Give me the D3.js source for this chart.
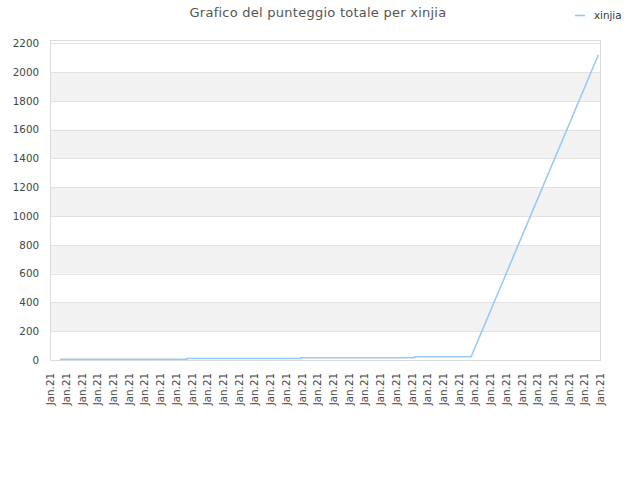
<!DOCTYPE html>
<html>
<head>
<meta charset="utf-8">
<script src="https://cdn.jsdelivr.net/npm/d3@7"></script>
<style>
  body { margin: 0; background: #fff; }
  svg { display: block; font-family: "DejaVu Sans", sans-serif; }
</style>
</head>
<body>
<div id="chart"></div>
<script>
// --- Data ---
const chartTitle = "Grafico del punteggio totale per xinjia";
const seriesName = "xinjia";

// 36 category ticks along the x axis
const tickLabels = d3.range(36).map(() => "Jan.21");

// points of the series: position on the tick index axis and score
const pointPos = [0.64, 8.72, 8.72, 15.97, 15.97, 23.2, 23.2, 26.8, 34.9];
const pointScore = [5, 5, 10, 10, 16, 16, 23, 23, 2120];

const yTicks = [0, 200, 400, 600, 800, 1000, 1200, 1400, 1600, 1800, 2000, 2200];

// --- Layout ---
const width = 640, height = 480;
const plot = { left: 50, right: 600, top: 40, bottom: 360 };

const svg = d3.select("#chart").append("svg")
  .attr("width", width)
  .attr("height", height);

const x = d3.scaleLinear()
  .domain([0, tickLabels.length - 1])
  .range([plot.left, plot.right]);

const y = d3.scaleLinear()
  .domain([0, 2200])
  .range([plot.bottom, 43.2]);

// alternating bands
const bands = yTicks.slice(0, -1).map((v, i) => [v, yTicks[i + 1]]).filter((b, i) => i % 2 === 1);
svg.selectAll(".band")
  .data(bands)
  .enter().append("rect")
  .attr("x", plot.left)
  .attr("width", plot.right - plot.left)
  .attr("y", d => y(d[1]))
  .attr("height", d => y(d[0]) - y(d[1]))
  .attr("fill", "#f2f2f2");

// grid lines
svg.selectAll(".grid")
  .data(yTicks)
  .enter().append("line")
  .attr("x1", plot.left)
  .attr("x2", plot.right)
  .attr("y1", d => Math.round(y(d)) + 0.5)
  .attr("y2", d => Math.round(y(d)) + 0.5)
  .attr("stroke", "#e2e2e2")
  .attr("stroke-width", 1);

// frame
svg.append("rect")
  .attr("x", plot.left + 0.5)
  .attr("y", plot.top + 0.5)
  .attr("width", plot.right - plot.left)
  .attr("height", plot.bottom - plot.top)
  .attr("fill", "none")
  .attr("stroke", "#dcdcdc");

// y axis labels
const yAxis = d3.axisLeft(y).tickValues(yTicks).tickFormat(d3.format("d")).tickSize(0).tickPadding(11);
const yg = svg.append("g")
  .attr("transform", `translate(${plot.left},0)`)
  .call(yAxis);
yg.select(".domain").remove();
yg.selectAll("text")
  .attr("font-family", "DejaVu Sans, sans-serif")
  .attr("font-size", 10.3)
  .attr("fill", "#444");

// x axis labels
const xAxis = d3.axisBottom(x)
  .tickValues(d3.range(tickLabels.length))
  .tickFormat(i => tickLabels[i])
  .tickSize(0);
const xg = svg.append("g")
  .attr("transform", `translate(0,${plot.bottom})`)
  .call(xAxis);
xg.select(".domain").remove();
xg.selectAll("text")
  .attr("font-family", "DejaVu Sans, sans-serif")
  .attr("font-size", 10.3)
  .attr("fill", "#444")
  .attr("text-anchor", "end")
  .attr("transform", "rotate(-90)")
  .attr("x", -13)
  .attr("y", 0)
  .attr("dy", "0.35em");

// series line
const line = d3.line()
  .x((d, i) => x(pointPos[i]))
  .y(d => y(d));

svg.append("path")
  .datum(pointScore)
  .attr("d", line)
  .attr("fill", "none")
  .attr("stroke", "#99c9f4")
  .attr("stroke-width", 1.6);

// title
svg.append("text")
  .attr("x", 318)
  .attr("y", 17)
  .attr("text-anchor", "middle")
  .attr("font-size", 13)
  .attr("letter-spacing", 0.25)
  .attr("fill", "#555")
  .text(chartTitle);

// legend
svg.append("line")
  .attr("x1", 575).attr("x2", 585)
  .attr("y1", 15.5).attr("y2", 15.5)
  .attr("stroke", "#99c9f4")
  .attr("stroke-width", 1.6);
svg.append("text")
  .attr("x", 594)
  .attr("y", 19)
  .attr("font-size", 10.3)
  .attr("fill", "#333")
  .text(seriesName);
</script>
</body>
</html>
